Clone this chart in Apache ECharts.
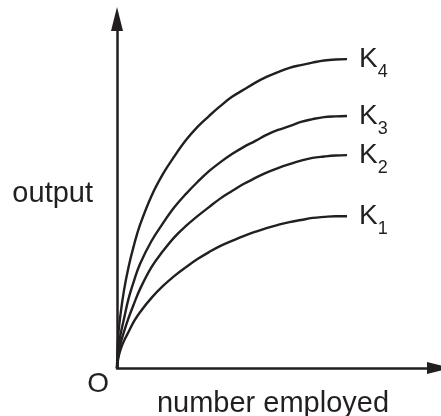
<!DOCTYPE html>
<html>
<head>
<meta charset="utf-8">
<script src="https://cdn.jsdelivr.net/npm/echarts@6/dist/echarts.min.js"></script>
<style>
  html, body { margin: 0; padding: 0; background: #fff; }
  #chart { width: 441px; height: 416px; }
</style>
</head>
<body>
<div id="chart"></div>
<script>
// number employed (x), output for each capital level K1..K4
const employed = [0, 0.5, 1.5, 3, 5, 7.5, 10, 15, 20, 25, 30, 35, 40, 45, 50, 55, 60, 65, 70, 75, 80, 85, 90, 95, 100];
const outputK1 = [0, 2.6, 5.2, 7.7, 10.3, 13.5, 16.0, 20.1, 23.5, 26.4, 28.9, 31.2, 33.2, 35.0, 36.4, 37.8, 39.0, 40.1, 41.0, 41.8, 42.4, 43.0, 43.3, 43.5, 43.5];
const outputK2 = [0, 3.4, 6.9, 10.3, 14.3, 18.6, 22.6, 28.9, 33.5, 37.5, 40.7, 43.5, 46.1, 48.6, 50.7, 52.7, 54.4, 56.0, 57.3, 58.4, 59.4, 60.2, 60.6, 60.9, 61.0];
const outputK3 = [0, 5.4, 9.5, 14.0, 19.8, 25.2, 29.8, 36.4, 41.5, 46.1, 49.9, 53.3, 56.4, 59.0, 61.3, 63.3, 65.0, 66.8, 68.2, 69.3, 70.5, 71.3, 71.9, 72.1, 72.2];
const outputK4 = [0, 8.9, 15.2, 22.1, 28.9, 35.5, 41.0, 49.3, 55.6, 60.7, 65.3, 69.1, 72.2, 75.1, 77.7, 79.7, 81.7, 83.4, 84.8, 86.0, 86.8, 87.5, 88.1, 88.4, 88.5];
const curveSubs = ["1", "2", "3", "4"];
const curves = [outputK1, outputK2, outputK3, outputK4];

const ink = "#231f20";
const font = "Liberation Sans";

const myChart = echarts.init(document.getElementById("chart"));

const series = curves.map((vals, i) => ({
  type: "line",
  name: "K" + curveSubs[i],
  data: employed.map((x, j) => [x, vals[j]]),
  smooth: 0.4,
  showSymbol: false,
  clip: false,
  silent: true,
  lineStyle: { color: ink, width: 2.4 },
  endLabel: {
    show: true,
    distance: 12,
    formatter: "{k|K}{s|" + curveSubs[i] + "}",
    rich: {
      k: { fontFamily: font, fontSize: 28, lineHeight: 28, color: ink },
      s: { fontFamily: font, fontSize: 18, lineHeight: 18, color: ink, padding: [26, 0, 0, 0] },
    },
  },
}));

myChart.setOption({
  animation: false,
  grid: { left: 117, right: 2, top: 19, bottom: 48, outerBoundsMode: "none" },
  xAxis: {
    type: "value",
    min: 0,
    max: 140,
    interval: 140,
    name: "number employed",
    nameLocation: "middle",
    nameGap: 21,
    nameMoveOverlap: false,
    nameTextStyle: { fontFamily: font, fontSize: 29, color: ink, padding: [0, 10, 0, 0] },
    axisLine: {
      lineStyle: { color: ink, width: 2.5 },
      symbol: ["none", "triangle"],
      symbolSize: [12, 24],
    },
    axisTick: { show: false },
    splitLine: { show: false },
    axisLabel: {
      showMaxLabel: false,
      margin: 2,
      align: "right",
      padding: [0, 8, 0, 0],
      fontFamily: font,
      fontSize: 28,
      color: ink,
      formatter: (v) => (v === 0 ? "O" : ""),
    },
  },
  yAxis: {
    type: "value",
    min: 0,
    max: 100,
    interval: 100,
    name: "output",
    nameLocation: "middle",
    nameRotate: 0,
    nameGap: 24,
    nameTextStyle: { fontFamily: font, fontSize: 29, color: ink },
    axisLine: {
      lineStyle: { color: ink, width: 2.5 },
      symbol: ["none", "triangle"],
      symbolSize: [12, 24],
    },
    axisTick: { show: false },
    splitLine: { show: false },
    axisLabel: { show: false },
  },
  series: series,
});
</script>
</body>
</html>
